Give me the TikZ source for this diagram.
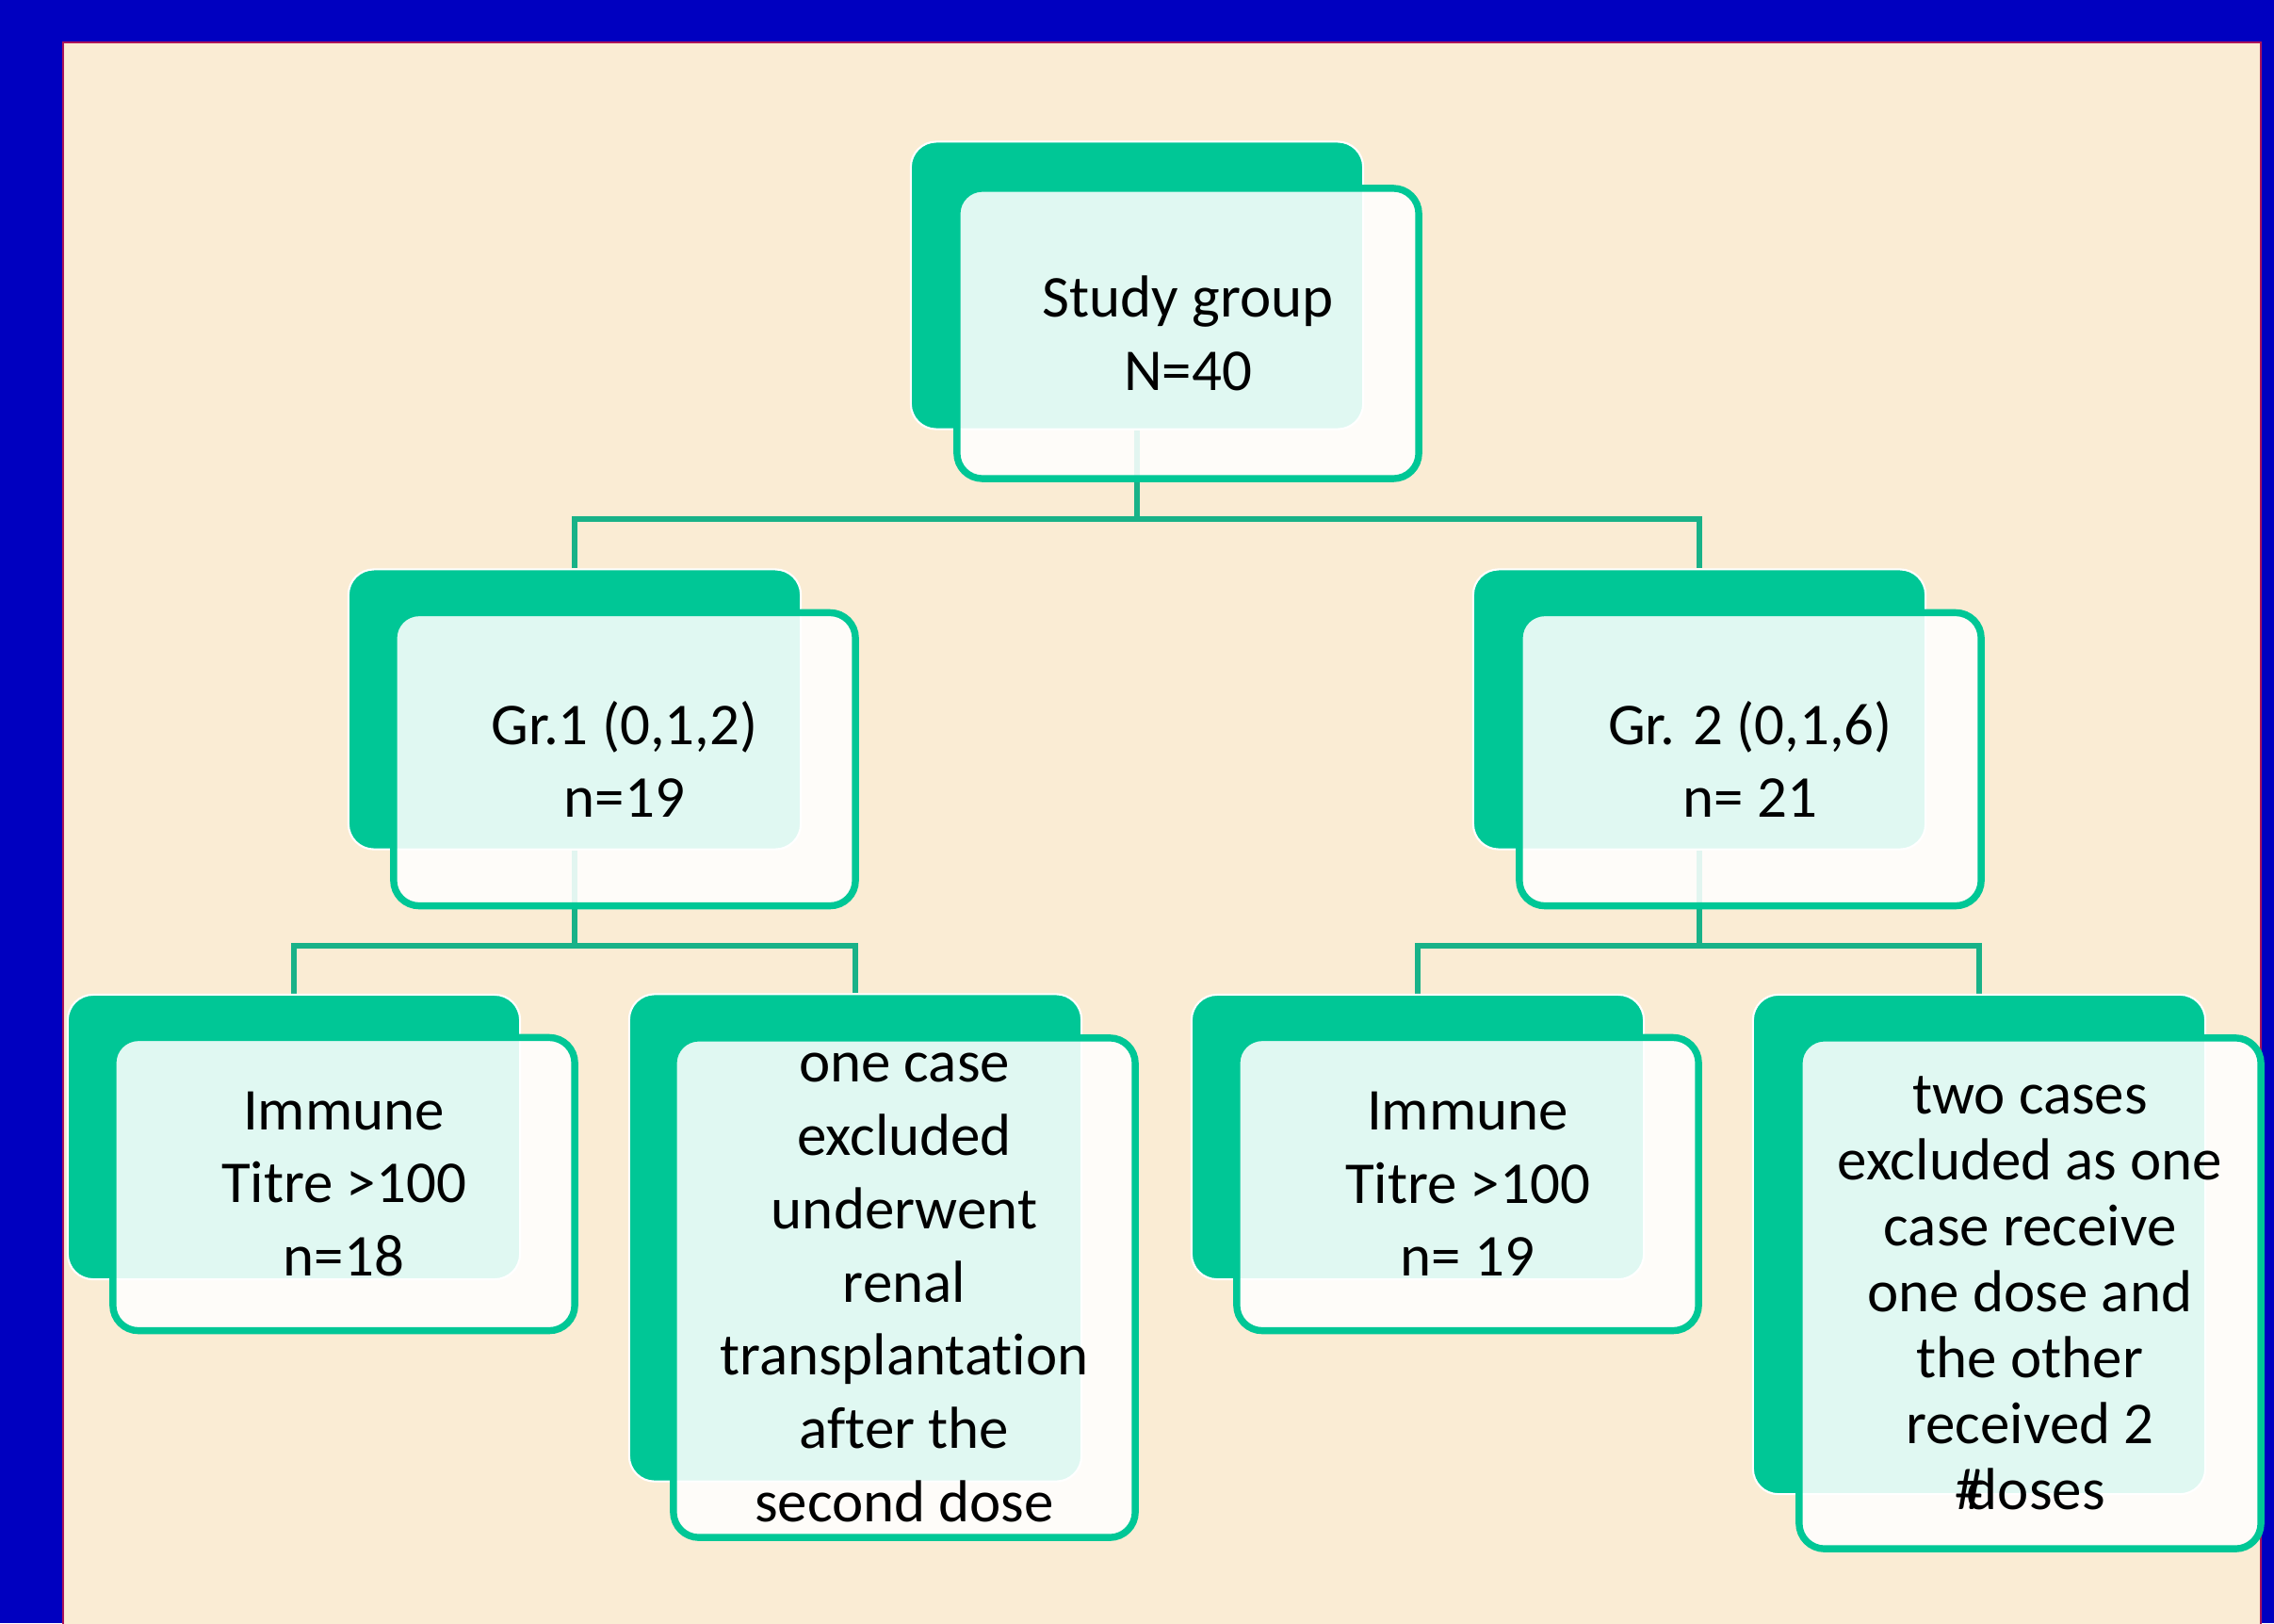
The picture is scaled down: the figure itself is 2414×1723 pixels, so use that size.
\documentclass[tikz,border=0pt]{standalone}
\usepackage{fontspec}
\setmainfont{Carlito}[Ligatures={NoCommon}]
\usetikzlibrary{positioning}
\definecolor{slideblue}{RGB}{0,0,192}
\definecolor{panelbeige}{RGB}{250,236,212}
\definecolor{panelrim}{RGB}{170,20,90}
\definecolor{boxgreen}{RGB}{0,199,150}
\definecolor{linkgreen}{RGB}{24,178,136}
\pgfdeclarelayer{background}
\pgfsetlayers{background,main}

\begin{document}
\begin{tikzpicture}[x=0.01cm, y=-0.01cm,
  back/.style={rectangle, rounded corners=0.27cm, fill=boxgreen, draw=white, line width=0.6pt, minimum width=4.8cm, inner sep=0pt},
  front/.style={rectangle, rounded corners=0.27cm, fill=white, fill opacity=0.88, text opacity=1, draw=boxgreen, line width=2.1pt, minimum width=4.9cm, inner sep=0pt, align=center, font=\fontsize{17.9}{22.1}\selectfont},
  link/.style={draw=linkgreen, line width=1.8pt}
]
  \useasboundingbox (0,0) rectangle (2414,1723);
  % Top level
  \node[back, minimum height=3.05cm] (topB) at (1207,303) {};
  \node[front, minimum height=3.08cm] (top) at (1261,354) {Study group\\N=40};
  % Second level
  \node[back, minimum height=2.97cm] (gr1B) at (610,753) {};
  \node[front, minimum height=3.11cm] (gr1) at (663,806) {Gr.1 (0,1,2)\\n=19};
  \node[back, minimum height=2.97cm] (gr2B) at (1804,753) {};
  \node[front, minimum height=3.11cm] (gr2) at (1858,806) {Gr. 2 (0,1,6)\\n= 21};
  % Third level
  \node[back, minimum height=3.02cm] (imm1B) at (312,1207) {};
  \node[front, minimum height=3.11cm] (imm1) at (365,1257) {Immune\\Titre >100\\n=18};
  \node[back, minimum height=5.17cm] (exc1B) at (908,1314) {};
  \node[front, minimum height=5.3cm] (exc1) at (960,1367) {one case\\excluded\\underwent\\renal\\transplantation\\after the\\second dose};
  \node[back, minimum height=3.02cm] (imm2B) at (1505,1207) {};
  \node[front, minimum height=3.11cm] (imm2) at (1558,1257) {Immune\\Titre >100\\n= 19};
  \node[back, minimum height=5.3cm] (exc2B) at (2101,1321) {};
  \node[front, minimum height=5.42cm, font=\fontsize{17.9}{19.9}\selectfont] (exc2) at (2155,1373) {two cases\\excluded as one\\case receive\\one dose and\\the other\\received 2\\\#\kern-.3em doses};
  % Junctions
  \coordinate (topJ) at (1207,551);
  \coordinate (gr1J) at (610,1004);
  \coordinate (gr2J) at (1804,1004);
  \begin{pgfonlayer}{background}
    % Slide and panel
    \fill[slideblue] (0,0) rectangle (2414,1723);
    \draw[panelrim, fill=panelbeige, line width=0.5pt] (67,45) rectangle (2400,1740);
    % Connectors
    \draw[link] (topB.south) -- (topJ);
    \draw[link] (gr1B.north) |- (topJ) -| (gr2B.north);
    \draw[link] (gr1B.south) -- (gr1J);
    \draw[link] (imm1B.north) |- (gr1J) -| (exc1B.north);
    \draw[link] (gr2B.south) -- (gr2J);
    \draw[link] (imm2B.north) |- (gr2J) -| (exc2B.north);
  \end{pgfonlayer}
\end{tikzpicture}
\end{document}
